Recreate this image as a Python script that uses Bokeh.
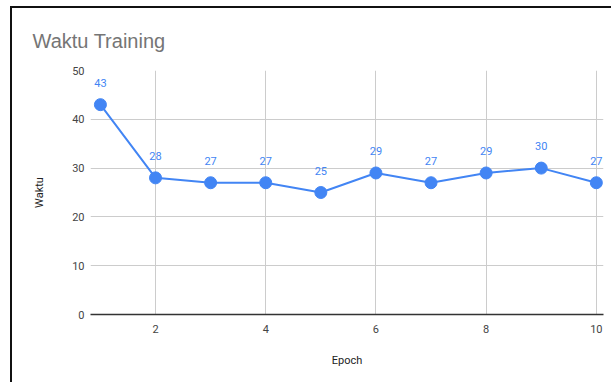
from bokeh.plotting import figure
from bokeh.models import ColumnDataSource, Range1d, FixedTicker, Title
from bokeh.core.properties import value
from bokeh.embed import file_html
from bokeh.resources import INLINE

epochs = [1, 2, 3, 4, 5, 6, 7, 8, 9, 10]
waktu = [43, 28, 27, 27, 25, 29, 27, 29, 30, 27]
labels = [str(v) for v in waktu]
x_ticks = [2, 4, 6, 8, 10]
y_ticks = [0, 10, 20, 30, 40, 50]

BLUE = "#4285F4"
FONT = "Roboto"

src = ColumnDataSource(dict(x=epochs, y=waktu, t=labels))

p = figure(width=601, height=376, output_backend="svg", toolbar_location=None,
           x_range=Range1d(0.82, 10.13), y_range=Range1d(0, 50),
           min_border_left=78, min_border_right=10, min_border_top=62, min_border_bottom=70)
p.styles = {"margin-left": "10px", "margin-top": "6px",
            "border-left": "2px solid #111", "border-top": "2px solid #111"}

p.title = Title(text="Waktu Training", text_font="Liberation Sans", text_font_size="20px",
                text_font_style="normal", text_color="#757575", offset=-58, standoff=37)
p.outline_line_color = None
p.background_fill_color = "white"
p.border_fill_color = "white"

p.line("x", "y", source=src, line_color=BLUE, line_width=2)
p.scatter("x", "y", source=src, size=12, fill_color=BLUE, line_color=BLUE)
p.text("x", "y", text="t", source=src, text_color=BLUE, text_font=value(FONT),
       text_font_size="11px", text_align="center", text_baseline="middle", y_offset=-22)

p.xaxis.ticker = FixedTicker(ticks=x_ticks)
p.yaxis.ticker = FixedTicker(ticks=y_ticks)
p.xgrid.ticker = FixedTicker(ticks=x_ticks)
p.ygrid.ticker = FixedTicker(ticks=y_ticks)
p.xgrid.grid_line_color = "#cccccc"
p.ygrid.grid_line_color = "#cccccc"

p.xaxis.axis_label = "Epoch"
p.yaxis.axis_label = "Waktu"
for ax in (p.xaxis, p.yaxis):
    ax.major_tick_line_color = None
    ax.minor_tick_line_color = None
    ax.major_tick_out = 0
    ax.major_tick_in = 0
    ax.minor_tick_out = 0
    ax.minor_tick_in = 0
    ax.major_label_text_font = FONT
    ax.major_label_text_font_size = "11px"
    ax.major_label_text_color = "#444444"
    ax.axis_label_text_font = FONT
    ax.axis_label_text_font_size = "11px"
    ax.axis_label_text_font_style = "normal"
    ax.axis_label_text_color = "#222222"
p.xaxis.axis_line_color = "#333333"
p.xaxis.axis_line_width = 1.5
p.yaxis.axis_line_color = None
p.xaxis.major_label_standoff = 10
p.yaxis.major_label_standoff = 6
p.xaxis.axis_label_standoff = 18
p.yaxis.axis_label_standoff = 23

open("out.html", "w").write(file_html(p, INLINE))
